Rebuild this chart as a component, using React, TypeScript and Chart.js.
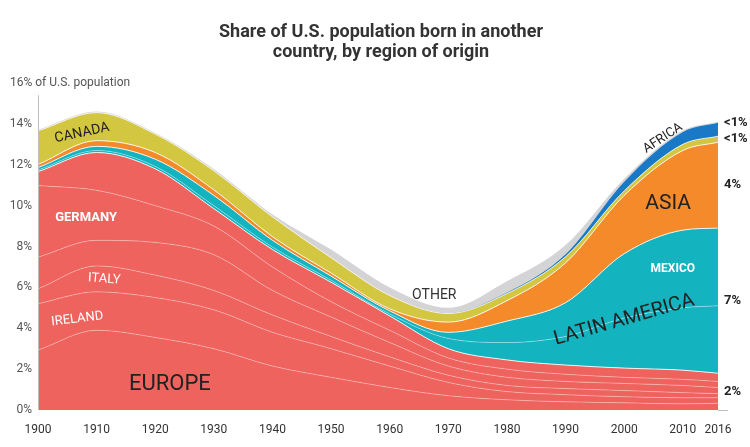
import React, { useEffect, useRef } from 'react';
import { Chart, registerables } from 'chart.js';

Chart.register(...registerables);

// ---- data (share of U.S. population, %) ----
const years = [1900, 1910, 1920, 1930, 1940, 1950, 1960, 1970, 1980, 1990, 2000, 2010, 2016];
const xTickValues = [1900, 1910, 1920, 1930, 1940, 1950, 1960, 1970, 1980, 1990, 2000, 2010, 2016];
const yTickValues = [0, 2, 4, 6, 8, 10, 12, 14, 16];

// Europe, split into its inner bands (bottom to top)
const europeBase = [2.93, 3.9, 3.55, 3.0, 2.15, 1.6, 1.1, 0.7, 0.5, 0.4, 0.35, 0.3, 0.33];
const ireland = [2.27, 1.88, 1.95, 1.9, 1.65, 1.4, 1.05, 0.65, 0.4, 0.35, 0.3, 0.3, 0.27];
const italy = [0.73, 1.27, 1.1, 0.95, 0.85, 0.6, 0.45, 0.35, 0.3, 0.3, 0.3, 0.25, 0.2];
const britain = [1.55, 1.25, 1.6, 1.75, 1.2, 0.95, 0.7, 0.45, 0.4, 0.35, 0.35, 0.35, 0.3];
const germany = [3.5, 2.45, 1.8, 1.4, 1.15, 0.75, 0.6, 0.4, 0.4, 0.35, 0.3, 0.3, 0.3];
const europeRest = [0.68, 1.85, 1.8, 0.85, 0.85, 0.95, 0.7, 0.45, 0.45, 0.45, 0.45, 0.45, 0.4];
// Latin America
const latinAmericaOther = [0.08, 0.1, 0.12, 0.15, 0.12, 0.1, 0.1, 0.5, 0.85, 1.4, 2.45, 3.05, 3.3];
const mexico = [0.12, 0.2, 0.35, 0.5, 0.33, 0.2, 0.15, 0.3, 1.05, 1.65, 3.15, 3.8, 3.8];
const asia = [0.15, 0.28, 0.33, 0.27, 0.18, 0.15, 0.1, 0.5, 1.0, 1.95, 2.85, 3.9, 4.2];
const canada = [1.65, 1.37, 0.9, 0.93, 0.97, 0.75, 0.65, 0.42, 0.35, 0.3, 0.22, 0.3, 0.3];
const africa = [0, 0, 0, 0, 0, 0, 0, 0.02, 0.05, 0.12, 0.45, 0.6, 0.65];
const other = [0.05, 0.05, 0.05, 0.08, 0.12, 0.4, 0.4, 0.26, 0.55, 0.45, 0.15, 0.07, 0.05];

const endLabels = ['<1%', '<1%', '4%', '7%', '2%'];

const RED = '#ef635f';
const TEAL = '#13b3bf';
const ORANGE = '#f58a2b';
const YELLOW = '#d3c641';
const BLUE = '#1979c6';
const GRAY = '#d4d4d6';

const seriesDefs = [
  { label: 'Europe (other)', values: europeBase, color: RED, border: 'rgba(255,255,255,0.3)', bw: 1 },
  { label: 'Ireland', values: ireland, color: RED, border: 'rgba(255,255,255,0.3)', bw: 1 },
  { label: 'Italy', values: italy, color: RED, border: 'rgba(255,255,255,0.3)', bw: 1 },
  { label: 'Britain', values: britain, color: RED, border: 'rgba(255,255,255,0.3)', bw: 1 },
  { label: 'Germany', values: germany, color: RED, border: 'rgba(255,255,255,0.3)', bw: 1 },
  { label: 'Europe (rest)', values: europeRest, color: RED, border: 'rgba(255,255,255,0.85)', bw: 1 },
  { label: 'Latin America (other)', values: latinAmericaOther, color: TEAL, border: 'rgba(255,255,255,0.35)', bw: 1 },
  { label: 'Mexico', values: mexico, color: TEAL, border: 'rgba(255,255,255,0.85)', bw: 1 },
  { label: 'Asia', values: asia, color: ORANGE, border: 'rgba(255,255,255,0.85)', bw: 1 },
  { label: 'Canada', values: canada, color: YELLOW, border: 'rgba(255,255,255,0.7)', bw: 1 },
  { label: 'Africa', values: africa, color: BLUE, border: BLUE, bw: 0 },
  { label: 'Other', values: other, color: GRAY, border: GRAY, bw: 0 },
];

// area labels: [text, year, value, font, color, rotation(deg)]
const areaLabels: [string, number, number, string, string, number][] = [
  ['CANADA', 1907.5, 13.55, '14px Roboto', '#222', -12],
  ['GERMANY', 1908.2, 9.4, 'bold 13px Roboto', '#fff', 0],
  ['ITALY', 1911.3, 6.4, '13px Roboto', '#fff', 4],
  ['IRELAND', 1906.7, 4.45, '13px Roboto', '#fff', -7],
  ['EUROPE', 1922.5, 1.27, '22px Roboto', '#222', 0],
  ['OTHER', 1967.6, 5.58, '14px Roboto', '#333', 0],
  ['AFRICA', 2006.6, 13.3, '13px Roboto', '#222', -33],
  ['ASIA', 2007.5, 10.1, '21px Roboto', '#222', 0],
  ['MEXICO', 2008.3, 6.9, 'bold 12px Roboto', '#fff', 0],
  ['LATIN AMERICA', 2000, 4.4, '20px Roboto', '#222', -16],
];

const titleLines = ['Share of U.S. population born in another', 'country, by region of origin'];
const yAxisTitle = '16% of U.S. population';

const annotPlugin = {
  id: 'annot',
  afterDatasetsDraw(chart: any) {
    const { ctx, scales } = chart;
    const x = scales.x;
    const y = scales.y;
    ctx.save();
    // y axis line
    ctx.strokeStyle = '#bdbdbd';
    ctx.lineWidth = 1;
    ctx.beginPath();
    ctx.moveTo(Math.round(x.left) + 0.5, y.getPixelForValue(15.4));
    ctx.lineTo(Math.round(x.left) + 0.5, y.bottom);
    ctx.stroke();
    // baseline stub past end
    ctx.beginPath();
    ctx.moveTo(x.right, Math.round(y.bottom) + 0.5);
    ctx.lineTo(x.right + 10, Math.round(y.bottom) + 0.5);
    ctx.stroke();

    // area labels
    ctx.textAlign = 'center';
    ctx.textBaseline = 'middle';
    for (const [text, yr, val, font, color, rot] of areaLabels) {
      ctx.save();
      ctx.translate(x.getPixelForValue(yr), y.getPixelForValue(val));
      ctx.rotate((rot * Math.PI) / 180);
      ctx.font = font;
      ctx.fillStyle = color;
      ctx.fillText(text, 0, 0);
      ctx.restore();
    }

    // end labels: mid of bands at last year
    const n = years.length - 1;
    const cum = (arrs: number[][]) => arrs.reduce((s, a) => s + a[n], 0);
    const europeTop = cum([europeBase, ireland, italy, britain, germany, europeRest]);
    const latTop = europeTop + latinAmericaOther[n] + mexico[n];
    const asiaTop = latTop + asia[n];
    const canTop = asiaTop + canada[n];
    const afrTop = canTop + africa[n];
    const mids = [
      (canTop + afrTop) / 2,
      (asiaTop + canTop) / 2,
      (latTop + asiaTop) / 2,
      (europeTop + latTop) / 2,
      europeTop / 2,
    ];
    const px = mids.map((m) => y.getPixelForValue(m));
    px[0] = Math.min(px[0], px[1] - 16);
    ctx.font = 'bold 13px Roboto';
    ctx.fillStyle = '#222';
    ctx.textAlign = 'left';
    endLabels.forEach((t, i) => ctx.fillText(t, x.right + 6, px[i]));
    ctx.restore();
  },
  afterDraw(chart: any) {
    const { ctx, scales } = chart;
    const y = scales.y;
    ctx.save();
    ctx.fillStyle = '#333';
    ctx.font = 'bold 18px Roboto';
    ctx.textAlign = 'center';
    ctx.textBaseline = 'middle';
    ctx.fillText(titleLines[0], 381, 32);
    ctx.fillText(titleLines[1], 381, 52);
    ctx.font = '12px Roboto';
    ctx.fillStyle = '#555';
    ctx.textAlign = 'left';
    ctx.fillText(yAxisTitle, 10, y.getPixelForValue(16));
    ctx.restore();
  },
};

export default function App() {
  const ref = useRef<HTMLCanvasElement | null>(null);
  useEffect(() => {
    if (!ref.current) return;
    Chart.defaults.font.family = 'Roboto';
    const datasets = seriesDefs.map((s, i) => ({
      label: s.label,
      data: years.map((yr, j) => ({ x: yr, y: s.values[j] })),
      backgroundColor: s.color,
      borderColor: s.border,
      borderWidth: s.bw,
      fill: i === 0 ? 'origin' : '-1',
      pointRadius: 0,
      cubicInterpolationMode: 'monotone' as const,
    }));
    const chart = new Chart(ref.current, {
      type: 'line',
      data: { datasets },
      options: {
        animation: false,
        responsive: true,
        maintainAspectRatio: false,
        events: [],
        layout: { padding: { top: 83, right: 32, left: 0, bottom: 0 } },
        plugins: { legend: { display: false }, tooltip: { enabled: false } },
        scales: {
          x: {
            type: 'linear',
            min: 1900,
            max: 2016,
            afterBuildTicks: (s: any) => {
              s.ticks = xTickValues.map((v) => ({ value: v }));
            },
            afterFit: (s: any) => {
              s.height = 37;
            },
            ticks: {
              autoSkip: false,
              maxRotation: 0,
              padding: 13,
              color: '#333',
              font: { size: 12, family: 'Roboto' },
              callback: (v: any) => String(v),
            },
            grid: { display: false, drawTicks: false },
            border: { display: false },
          },
          y: {
            stacked: true,
            min: 0,
            max: 16,
            afterBuildTicks: (s: any) => {
              s.ticks = yTickValues.map((v) => ({ value: v }));
            },
            afterFit: (s: any) => {
              s.width = 38;
            },
            ticks: {
              padding: 6,
              color: '#555',
              font: { size: 12, family: 'Roboto' },
              callback: (v: any) => (v === 16 ? '' : v + '%'),
            },
            grid: { display: false, drawTicks: false },
            border: { display: false },
          },
        },
      },
      plugins: [annotPlugin],
    });
    return () => chart.destroy();
  }, []);
  return (
    <div style={{ position: 'absolute', left: 0, top: 0, width: 750, height: 447, background: '#fff' }}>
      <canvas ref={ref} />
    </div>
  );
}
